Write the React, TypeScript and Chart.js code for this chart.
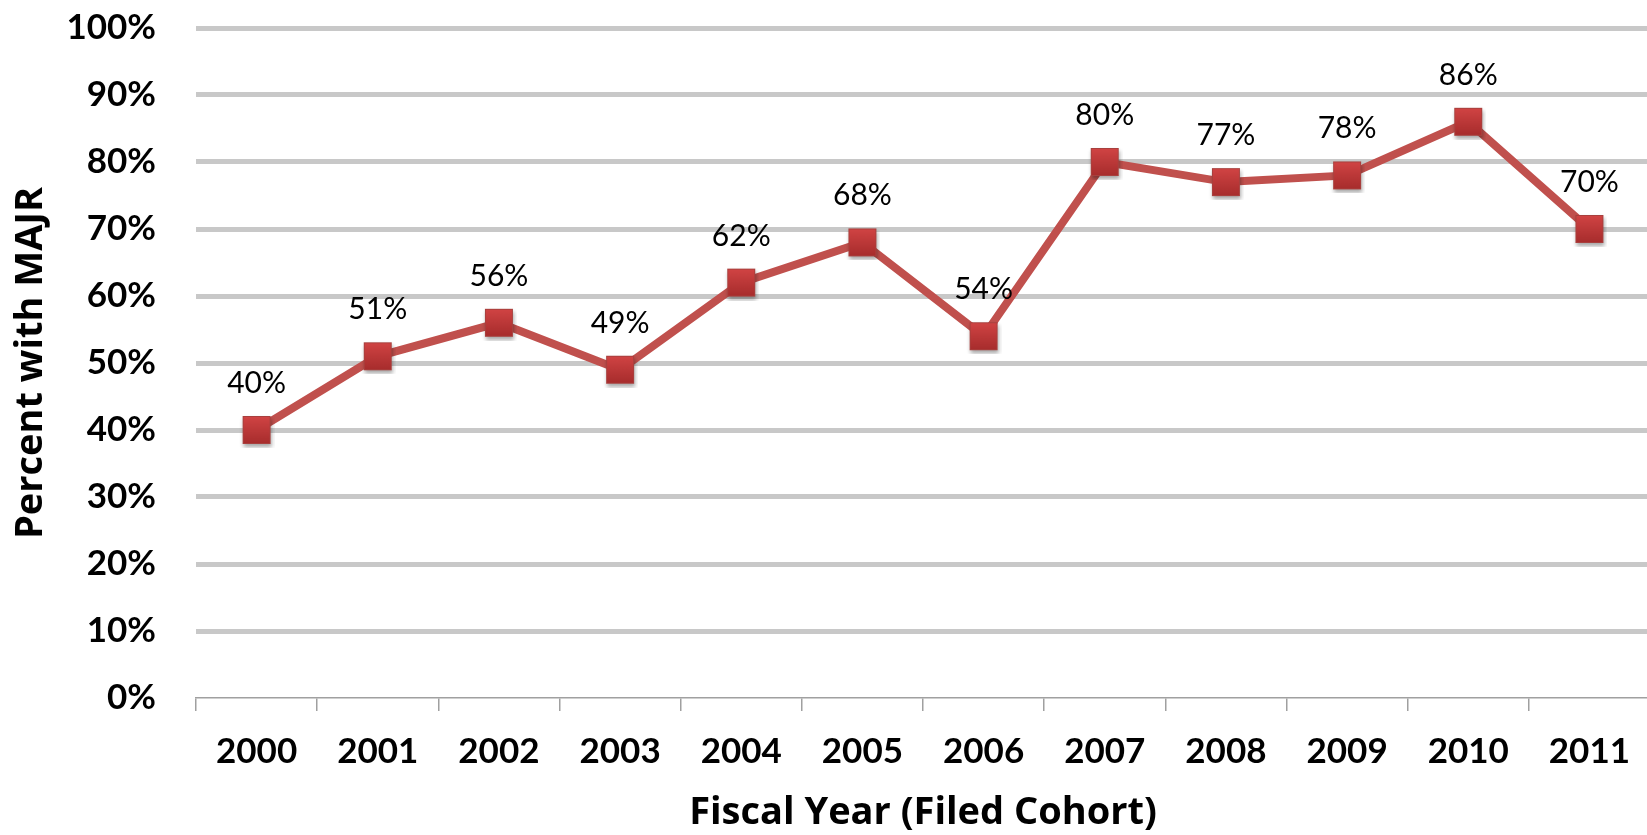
import React, { useEffect, useRef } from "react";
import { Chart, registerables } from "chart.js";

Chart.register(...registerables);

const years = ["2000", "2001", "2002", "2003", "2004", "2005", "2006", "2007", "2008", "2009", "2010", "2011"];
const percentWithMajr = [40, 51, 56, 49, 62, 68, 54, 80, 77, 78, 86, 70];
const yTickValues = [0, 10, 20, 30, 40, 50, 60, 70, 80, 90, 100];

function makeMarker(): HTMLCanvasElement {
  const c = document.createElement("canvas");
  c.width = 36;
  c.height = 36;
  const g = c.getContext("2d")!;
  const s = 28;
  const x0 = (36 - s) / 2;
  const y0 = (36 - s) / 2;
  g.save();
  g.shadowColor = "rgba(0,0,0,0.35)";
  g.shadowBlur = 4;
  g.shadowOffsetX = 1;
  g.shadowOffsetY = 3;
  const grad = g.createLinearGradient(0, y0, 0, y0 + s);
  grad.addColorStop(0, "#d14444");
  grad.addColorStop(1, "#a62c2c");
  g.fillStyle = grad;
  g.fillRect(x0, y0, s, s);
  g.restore();
  g.strokeStyle = "#a8403e";
  g.lineWidth = 1;
  g.strokeRect(x0 + 0.5, y0 + 0.5, s - 1, s - 1);
  return c;
}

const dataLabelPlugin = {
  id: "dataLabels",
  afterDatasetsDraw(chart: any) {
    const ctx = chart.ctx;
    const meta = chart.getDatasetMeta(0);
    const ds = chart.data.datasets[0];
    ctx.save();
    ctx.font = "30px Lato";
    ctx.fillStyle = "#000";
    ctx.textAlign = "center";
    ctx.textBaseline = "alphabetic";
    meta.data.forEach((pt: any, i: number) => {
      ctx.fillText(ds.data[i] + "%", pt.x, pt.y - 37);
    });
    ctx.restore();
  },
};

export default function App() {
  const ref = useRef<HTMLCanvasElement | null>(null);
  useEffect(() => {
    if (!ref.current) return;
    const marker = makeMarker();
    const chart = new Chart(ref.current, {
      type: "line",
      data: {
        labels: years,
        datasets: [
          {
            data: percentWithMajr,
            borderColor: "#c0504d",
            borderWidth: 8,
            tension: 0,
            pointStyle: marker as any,
            pointRadius: 14,
            pointHoverRadius: 14,
            fill: false,
          },
        ],
      },
      options: {
        animation: false,
        responsive: false,
        layout: { padding: { top: 28, right: 14, left: 0, bottom: 0 } },
        plugins: {
          legend: { display: false },
          tooltip: { enabled: false },
        },
        scales: {
          x: {
            offset: true,
            afterFit: (scale: any) => {
              scale.height = 137;
              scale.paddingLeft = 0;
              scale.paddingRight = 0;
            },
            grid: {
              offset: true,
              drawOnChartArea: false,
              drawTicks: true,
              tickLength: 13,
              color: "#a0a0a0",
              lineWidth: 1.5,
            },
            border: { display: true, color: "#a0a0a0", width: 1.5 },
            ticks: {
              color: "#000",
              font: { family: "Lato", weight: "bold", size: 35 },
              padding: 20,
              maxRotation: 0,
              autoSkip: false,
            },
            title: {
              display: true,
              text: "Fiscal Year (Filed Cohort)",
              color: "#000",
              font: { family: "Open Sans", weight: "bold", size: 38 },
              padding: { top: 0, bottom: -1 },
            },
          },
          y: {
            min: 0,
            max: 100,
            afterFit: (scale: any) => {
              scale.width = 196;
              scale.paddingTop = 0;
              scale.paddingBottom = 0;
            },
            afterBuildTicks: (scale: any) => {
              scale.ticks = yTickValues.map((v) => ({ value: v }));
            },
            grid: {
              drawTicks: false,
              color: (c: any) => (c.tick && c.tick.value === 0 ? "rgba(0,0,0,0)" : "#c8c8c8"),
              lineWidth: 5,
            },
            border: { display: false },
            ticks: {
              color: "#000",
              font: { family: "Lato", weight: "bold", size: 35 },
              padding: 40,
              callback: (v: any) => v + "%",
            },
            title: {
              display: true,
              text: "Percent with MAJR",
              color: "#000",
              font: { family: "Open Sans", weight: "bold", size: 38 },
              padding: { top: 8, bottom: 0 },
            },
          },
        },
      },
      plugins: [dataLabelPlugin],
    });
    return () => chart.destroy();
  }, []);

  return (
    <div
      style={{
        position: "fixed",
        left: 0,
        top: 0,
        width: 1647,
        height: 835,
        overflow: "hidden",
        background: "#fff",
      }}
    >
      <canvas ref={ref} width={1672} height={835} style={{ width: 1672, height: 835, display: "block" }} />
    </div>
  );
}
